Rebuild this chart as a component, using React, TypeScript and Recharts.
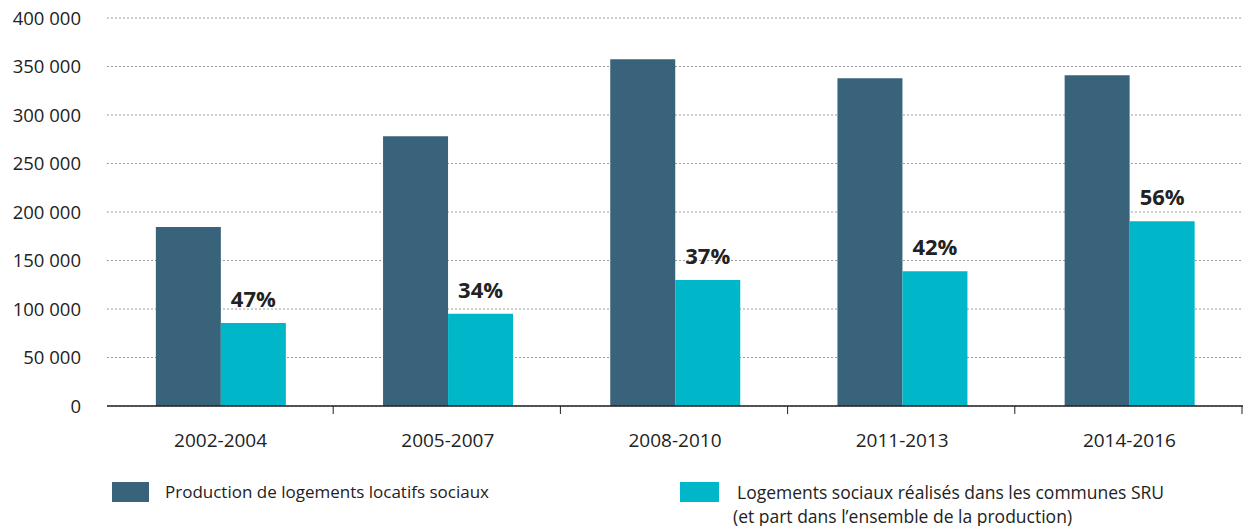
import React from "react";
import { BarChart, Bar, XAxis, YAxis, CartesianGrid, LabelList } from "recharts";

const categories = ["2002-2004", "2005-2007", "2008-2010", "2011-2013", "2014-2016"];
const production = [184500, 278000, 357500, 338000, 341000];
const sru = [85500, 95000, 130000, 139000, 190500];
const sruShare = [47, 34, 37, 42, 56];
const yTicks = [0, 50000, 100000, 150000, 200000, 250000, 300000, 350000, 400000];

const DARK = "#38637A";
const CYAN = "#00B7C9";
const TEXT = "#222222";
const FONT = "'Open Sans', 'Noto Sans', sans-serif";

const data = categories.map((c, i) => ({
  name: c,
  production: production[i],
  sru: sru[i],
  pct: sruShare[i],
}));

const W = 1243;
const H = 526;
const ML = 107;
const PLOT_W = W - ML;

const fmt = (v: number) => {
  const s = String(v);
  return s.replace(/\B(?=(\d{3})+(?!\d))/g, " ");
};

const XTick = (props: any) => {
  const { x, y, payload } = props;
  const band = PLOT_W / categories.length;
  return (
    <g>
      <text x={x} y={y + 33} textAnchor="middle" fill={TEXT} fontSize={19} fontFamily={FONT}>
        {payload.value}
      </text>
      <line x1={x + band / 2 - 1} x2={x + band / 2 - 1} y1={y - 8} y2={y} stroke="#222" strokeWidth={1} />
    </g>
  );
};

export default function App() {
  return (
    <div style={{ position: "absolute", left: 0, top: 0, width: W, height: H, background: "#fff" }}>
      <BarChart
        width={W}
        height={H}
        data={data}
        margin={{ top: 18, right: 0, left: 0, bottom: 80 }}
        barCategoryGap="21.5%"
        barGap={0}
      >
        <CartesianGrid vertical={false} stroke="#9a9a9a" strokeDasharray="2 2" />
        <XAxis
          dataKey="name"
          height={40}
          tickLine={false}
          tickSize={8}
          tickMargin={0}
          axisLine={{ stroke: "#222", strokeWidth: 1.5 }}
          tick={<XTick />}
          interval={0}
        />
        <YAxis
          width={ML}
          domain={[0, 400000]}
          ticks={yTicks}
          tickLine={false}
          axisLine={false}
          tickMargin={20}
          tickFormatter={fmt}
          tick={{ fill: TEXT, fontSize: 18.5, fontFamily: FONT }}
        />
        <Bar dataKey="production" fill={DARK} isAnimationActive={false} />
        <Bar dataKey="sru" fill={CYAN} isAnimationActive={false}>
          <LabelList
            dataKey="pct"
            position="top"
            offset={16}
            formatter={(v: any) => `${v}%`}
            fill={TEXT}
            fontSize={22}
            fontWeight="bold"
            fontFamily={FONT}
          />
        </Bar>
      </BarChart>
      <div style={{ position: "absolute", left: 112, top: 482, width: 37, height: 20, background: DARK }} />
      <div
        style={{
          position: "absolute",
          left: 165,
          top: 480,
          fontFamily: FONT,
          fontSize: 17,
          color: TEXT,
          whiteSpace: "nowrap",
          lineHeight: "24px",
        }}
      >
        Production de logements locatifs sociaux
      </div>
      <div style={{ position: "absolute", left: 680, top: 482, width: 39, height: 20, background: CYAN }} />
      <div
        style={{
          position: "absolute",
          left: 733,
          top: 480,
          fontFamily: FONT,
          fontSize: 17.5,
          color: TEXT,
          whiteSpace: "nowrap",
          lineHeight: "24px",
        }}
      >
        <div style={{ paddingLeft: 4 }}>Logements sociaux réalisés dans les communes SRU</div>
        <div>(et part dans l’ensemble de la production)</div>
      </div>
    </div>
  );
}
